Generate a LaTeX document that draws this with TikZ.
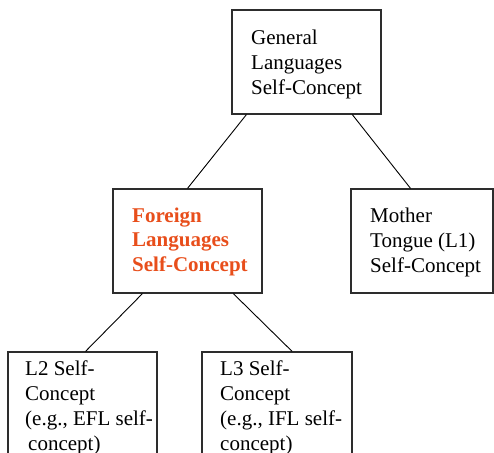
\documentclass[tikz,border=0pt]{standalone}
\usepackage{fontspec}
\setmainfont{Liberation Serif}
\usetikzlibrary{calc}
\definecolor{accent}{RGB}{232,78,27}
\definecolor{frame}{RGB}{45,45,45}
\tikzset{
  box/.style={draw=frame, line width=1.2pt, rectangle, inner sep=0pt},
  % anchored at the baseline of the last line
  txt/.style={anchor=base west, align=left, inner sep=0pt,
    font=\fontsize{21}{25}\selectfont},
  hot/.style={txt, text=accent, font=\fontsize{21}{24.5}\selectfont\bfseries},
  link/.style={draw=black, line width=0.9pt}
}
\begin{document}
\begin{tikzpicture}[x=1pt, y=-1pt]
\useasboundingbox (0,0) rectangle (494,452);

% frames
\node[box, minimum width=149pt, minimum height=104pt] (gen) at (306.5,62) {};
\node[box, minimum width=149pt, minimum height=104pt] (flang) at (187.5,241) {};
\node[box, minimum width=142pt, minimum height=104pt] (mother) at (422,241) {};
\node[box, minimum width=149pt, minimum height=118pt] (ltwo) at (82.5,411) {};
\node[box, minimum width=150pt, minimum height=118pt] (lthree) at (277,411) {};

% labels
\node[txt] (gentext) at (251,94) {General\\Languages\\Self-Concept};
\node[hot] (flangtext) at (132,271) {Foreign\\Languages\\Self-Concept};
\node[txt] (mothertext) at (370,272) {Mother\\Tongue (L1)\\Self-Concept};
\node[txt] (ltwotext) at (25,450) {L2 Self-\\Concept\\(e.g., EFL self-\\\hspace{3pt}concept)};
\node[txt] (lthreetext) at (220,450) {L3 Self-\\Concept\\(e.g., IFL self-\\concept)};

% hierarchy links
\draw[link] ($(gen.south west)!0.1!(gen.south east)$) -- (flang.north);
\draw[link] ($(gen.south west)!0.805!(gen.south east)$) -- ($(mother.north west)!0.42!(mother.north east)$);
\draw[link] ($(flang.south west)!0.2!(flang.south east)$) -- ($(ltwo.north west)!0.52!(ltwo.north east)$);
\draw[link] ($(flang.south west)!0.805!(flang.south east)$) -- ($(lthree.north west)!0.6!(lthree.north east)$);
\end{tikzpicture}
\end{document}
